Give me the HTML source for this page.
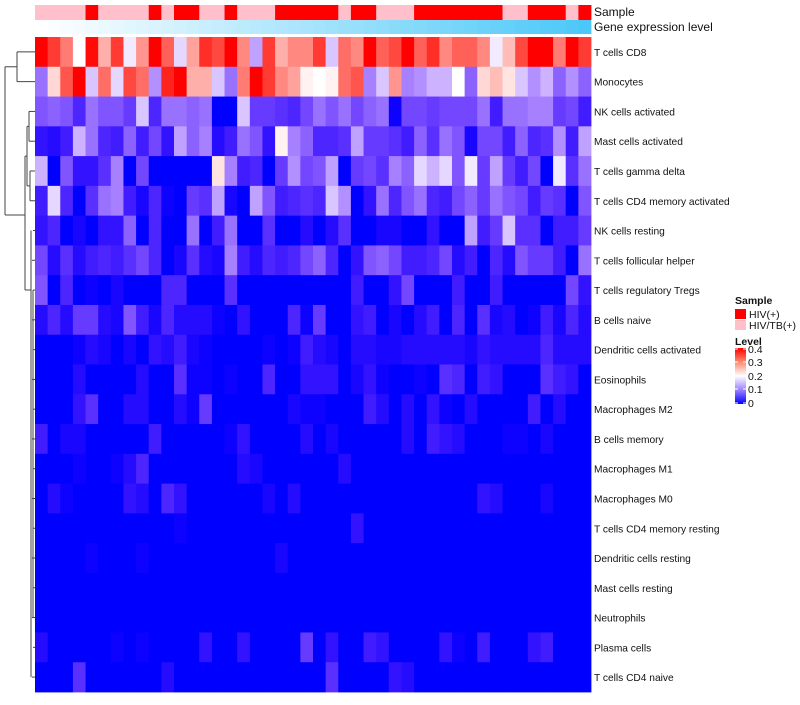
<!DOCTYPE html>
<html><head><meta charset="utf-8"><style>
body{margin:0;background:#fff;}
svg text{font-family:"Liberation Sans",sans-serif;}
</style></head><body>
<svg id="chart" width="800" height="700" xmlns="http://www.w3.org/2000/svg">
<rect width="800" height="700" fill="#fff"/>
<g id="dendro" stroke="#444" stroke-width="1" fill="none"></g>
<g id="cells"></g>
<g id="annot"></g>
<g id="labels" font-size="10.2" fill="#111"></g>
<text x="594" y="16" font-size="12" fill="#111">Sample</text>
<text x="594" y="31" font-size="12" fill="#111">Gene expression level</text>
<g font-size="10.5" fill="#111">
<text x="735" y="304" font-weight="bold">Sample</text>
<rect x="735" y="309" width="11" height="10" fill="#ff0000"/>
<text x="749" y="318">HIV(+)</text>
<rect x="735" y="320" width="11" height="10" fill="#ffc0cb"/>
<text x="749" y="329">HIV/TB(+)</text>
<text x="735" y="345" font-weight="bold">Level</text>
<defs><linearGradient id="lg" x1="0" y1="1" x2="0" y2="0"><stop offset="0" stop-color="#0000ff"/><stop offset="0.25" stop-color="#9a80ff"/><stop offset="0.5" stop-color="#ffffff"/><stop offset="0.75" stop-color="#ff8a70"/><stop offset="1" stop-color="#ff0000"/></linearGradient></defs>
<rect x="735" y="348" width="11" height="56" fill="url(#lg)"/>
<g stroke="#fff" stroke-width="1"><line x1="735" x2="738" y1="349" y2="349"/><line x1="743" x2="746" y1="349" y2="349"/><line x1="735" x2="738" y1="362" y2="362"/><line x1="743" x2="746" y1="362" y2="362"/><line x1="735" x2="738" y1="376" y2="376"/><line x1="743" x2="746" y1="376" y2="376"/><line x1="735" x2="738" y1="389" y2="389"/><line x1="743" x2="746" y1="389" y2="389"/><line x1="735" x2="738" y1="403" y2="403"/><line x1="743" x2="746" y1="403" y2="403"/></g>
<text x="748" y="353">0.4</text>
<text x="748" y="366">0.3</text>
<text x="748" y="380">0.2</text>
<text x="748" y="393">0.1</text>
<text x="748" y="407">0</text>
</g>
</svg>
<script>
const rowNames = ["T cells CD8","Monocytes","NK cells activated","Mast cells activated","T cells gamma delta","T cells CD4 memory activated","NK cells resting","T cells follicular helper","T cells regulatory  Tregs","B cells naive","Dendritic cells activated","Eosinophils","Macrophages M2","B cells memory","Macrophages M1","Macrophages M0","T cells CD4 memory resting","Dendritic cells resting","Mast cells resting","Neutrophils","Plasma cells","T cells CD4 naive"];
const sampleGroups = "PPPPRPPPPRPRRPPRPPPRRRRRPRRPPPRRRRRRRPPRRRPR".split("");
const row0 = [0.4,0.35,0.3,0.2,0.39,0.26,0.35,0.19,0.28,0.4,0.32,0.18,0.27,0.36,0.34,0.4,0.29,0.15,0.35,0.26,0.29,0.29,0.35,0.17,0.31,0.29,0.4,0.32,0.34,0.4,0.32,0.36,0.29,0.32,0.32,0.29,0.19,0.25,0.34,0.4,0.4,0.3,0.4,0.35];
const row1 = [0.12,0.23,0.33,0.4,0.17,0.31,0.18,0.34,0.31,0.14,0.37,0.4,0.26,0.26,0.17,0.12,0.3,0.4,0.35,0.29,0.27,0.21,0.2,0.21,0.31,0.33,0.13,0.17,0.28,0.13,0.14,0.16,0.16,0.2,0.11,0.23,0.25,0.22,0.17,0.14,0.16,0.11,0.14,0.11];
const row2 = [0.1,0.11,0.1,0.06,0.12,0.1,0.1,0.08,0.17,0.06,0.12,0.12,0.11,0.12,0,0,0.17,0.08,0.08,0.07,0.06,0.09,0.12,0.1,0.12,0.09,0.11,0.12,0.01,0.09,0.09,0.08,0.09,0.09,0.09,0.12,0.05,0.12,0.12,0.13,0.13,0.08,0.09,0.05];
const row3 = [0.04,0.03,0.05,0.16,0.12,0.06,0.05,0.11,0.05,0.09,0.04,0.15,0.11,0.13,0.03,0.05,0.12,0.1,0.04,0.21,0.13,0.11,0.06,0.06,0.07,0.15,0.08,0.08,0.07,0.05,0.11,0.07,0.12,0.1,0.02,0.09,0.09,0.05,0.11,0.06,0.07,0.14,0.05,0.15];
const row4 = [0.16,0,0.1,0.04,0.04,0.07,0.13,0,0.09,0,0,0,0,0,0.22,0.13,0.05,0.06,0,0.08,0.14,0.09,0.1,0.15,0,0.08,0.09,0.07,0.13,0.11,0.18,0.16,0.18,0.1,0.19,0.08,0.15,0.08,0.05,0.09,0,0.19,0.07,0.12];
const row5 = [0.05,0.18,0.06,0,0.07,0.12,0.13,0.05,0.02,0.06,0.01,0,0.08,0.07,0.15,0.02,0,0.15,0.1,0.05,0.06,0.07,0.06,0.17,0.14,0,0.04,0.12,0.06,0.1,0.12,0.06,0.05,0.09,0.11,0.08,0.12,0.1,0.09,0.05,0.08,0.07,0,0.1];
const row6 = [0.04,0.06,0,0.02,0,0.04,0.04,0.11,0,0.06,0,0,0.12,0,0.05,0.12,0,0,0.07,0,0,0.03,0,0.03,0.07,0,0,0.02,0.02,0,0,0.04,0,0,0.15,0.05,0.08,0.17,0.07,0.07,0,0.05,0.05,0.08];
const row7 = [0.09,0.03,0.07,0.03,0.05,0.06,0.05,0.07,0.09,0.06,0,0.02,0.07,0.03,0.02,0.13,0.05,0.03,0.06,0.05,0.06,0.09,0.11,0.06,0,0.04,0.1,0.11,0.09,0.05,0.05,0.06,0.09,0.03,0.05,0,0.06,0.03,0.1,0.08,0.08,0.05,0,0.12];
const row8 = [0.1,0,0.06,0,0.01,0,0.02,0,0,0,0.06,0.06,0,0,0,0.07,0,0,0,0,0,0,0,0,0,0.05,0,0,0.04,0.09,0,0,0,0.05,0,0,0.05,0,0,0,0,0,0.09,0.04];
const row9 = [0.03,0.06,0.03,0.08,0.08,0.03,0.02,0.1,0.05,0.02,0.06,0.03,0.03,0.03,0.01,0,0.04,0,0,0,0.06,0.01,0.08,0,0,0.04,0.05,0,0.02,0,0.03,0.05,0,0.06,0,0.07,0.02,0.03,0,0.01,0.05,0.02,0.06,0.03];
const row10 = [0,0,0,0.01,0.03,0.02,0,0.02,0,0.04,0.03,0.05,0.02,0.01,0,0,0,0,0.01,0,0.01,0.05,0.03,0.02,0,0.03,0.03,0.02,0.02,0.03,0.03,0.03,0.03,0.03,0.02,0.04,0.03,0.03,0.03,0.03,0.06,0.03,0.03,0.03];
const row11 = [0,0,0,0.03,0,0,0,0,0.03,0,0,0.07,0.01,0.01,0,0.01,0,0,0.06,0,0,0.04,0.04,0.04,0,0.02,0.04,0.01,0,0,0.01,0,0.07,0.06,0,0.05,0.04,0,0,0,0.07,0.05,0.04,0];
const row12 = [0,0,0,0.04,0.07,0,0,0.03,0.03,0,0,0.03,0.01,0.08,0,0,0,0,0,0,0.02,0.01,0.01,0,0,0,0.05,0.03,0,0.03,0,0.04,0.01,0,0.03,0,0,0,0,0.05,0,0.03,0,0];
const row13 = [0.05,0,0.02,0.02,0,0,0,0,0,0.05,0,0,0,0,0,0.01,0.04,0,0,0,0,0.03,0,0.02,0,0,0,0,0,0.03,0,0.05,0.04,0.03,0,0,0,0.01,0.01,0,0.02,0,0,0];
const row14 = [0,0,0,0.01,0,0,0.01,0.03,0.06,0,0,0,0,0,0,0,0.03,0.02,0,0,0,0,0,0,0.03,0,0,0,0,0,0,0,0,0,0,0,0,0,0,0,0,0,0,0];
const row15 = [0,0.03,0.01,0,0,0,0,0.04,0.03,0,0.06,0.04,0,0,0,0,0,0,0.02,0,0.03,0,0,0,0,0,0,0,0,0,0,0,0,0,0,0.04,0.03,0,0,0,0.02,0,0,0];
const row16 = [0,0,0,0,0,0,0,0,0,0,0,0.01,0,0,0,0,0,0,0,0,0,0,0,0,0,0.04,0,0,0,0,0,0,0,0,0,0,0,0,0,0,0,0,0,0];
const row17 = [0,0,0,0,0.01,0,0,0,0.01,0,0,0,0,0,0,0,0,0,0,0.02,0,0,0,0,0,0,0,0,0,0,0,0,0,0,0,0,0,0,0,0,0,0,0,0];
const row18 = [0,0,0,0,0,0,0,0,0,0,0,0,0,0,0,0,0,0,0,0,0,0,0,0,0,0,0,0,0,0,0,0,0,0,0,0,0,0,0,0,0,0,0,0];
const row19 = [0,0,0,0,0,0,0,0,0,0,0,0,0,0,0,0,0,0,0,0,0,0,0,0,0,0,0,0,0,0,0,0,0,0,0,0,0,0,0,0,0,0,0,0];
const row20 = [0.03,0,0,0,0,0,0.01,0,0.01,0,0,0,0,0.04,0,0,0.04,0,0,0,0,0.08,0,0.04,0,0,0.05,0.04,0,0,0,0,0.04,0.01,0,0.05,0,0,0,0.04,0.05,0,0,0];
const row21 = [0,0,0,0.07,0,0,0,0,0,0,0.03,0,0,0,0,0,0,0,0,0,0,0,0,0.07,0,0,0,0,0.04,0.03,0,0,0,0,0,0,0,0,0,0,0,0,0,0];
const values = [row0,row1,row2,row3,row4,row5,row6,row7,row8,row9,row10,row11,row12,row13,row14,row15,row16,row17,row18,row19,row20,row21];

const NS = "http://www.w3.org/2000/svg";
const X0 = 35, X1 = 591, Y0 = 37, Y1 = 692;
const nCol = sampleGroups.length, nRow = rowNames.length;
const cw = (X1 - X0) / nCol, ch = (Y1 - Y0) / nRow;
function xPos(j){ return X0 + j * cw; }
function yPos(i){ return Y0 + i * ch; }
function yMid(i){ return Y0 + (i + 0.5) * ch; }
function colorFor(v){
  let r,g,b;
  if (v <= 0.2){ const t = Math.max(0, v / 0.2); r = 255 * t; g = 255 * Math.pow(t, 1.6); b = 255; }
  else { const t = Math.min(1, (v - 0.2) / 0.2); r = 255; g = 255 * Math.pow(1 - t, 1.05); b = 255 * Math.pow(1 - t, 1.15); }
  return "rgb(" + Math.round(r) + "," + Math.round(g) + "," + Math.round(b) + ")";
}
function mk(tag, attrs){ const e = document.createElementNS(NS, tag); for (const k in attrs) e.setAttribute(k, attrs[k]); return e; }

const cells = document.getElementById("cells");
for (let i = 0; i < nRow; i++){
  for (let j = 0; j < nCol; j++){
    const r = mk("rect", {x: xPos(j), y: yPos(i), width: cw + 0.4, height: ch + 0.4, fill: colorFor(values[i][j])});
    
    
    cells.appendChild(r);
  }
}
const annot = document.getElementById("annot");
for (let j = 0; j < nCol; j++){
  const s = mk("rect", {x: xPos(j), y: 5, width: cw + 0.4, height: 15, fill: sampleGroups[j] === "R" ? "#ff0000" : "#ffc0cb"});
  
  
  annot.appendChild(s);
  const t = j / (nCol - 1);
  const gcol = "rgb(" + Math.round(255 - 179 * t) + "," + Math.round(255 - 55 * t) + "," + Math.round(255 - 7 * t) + ")";
  const g = mk("rect", {x: xPos(j), y: 20, width: cw + 0.4, height: 14, fill: gcol});
  
  
  annot.appendChild(g);
}
const labels = document.getElementById("labels");
for (let i = 0; i < nRow; i++){
  const t = mk("text", {x: 594, y: yMid(i) + 4});
  t.textContent = rowNames[i];
  
  
  labels.appendChild(t);
}
const dendro = document.getElementById("dendro");
function seg(x1,y1,x2,y2){
  const l = mk("line", {x1:x1, y1:y1, x2:x2, y2:y2});
  
  
  dendro.appendChild(l);
}
const a = (yMid(0) + yMid(1)) / 2;
seg(17, yMid(0), 35, yMid(0)); seg(17, yMid(1), 35, yMid(1)); seg(17, yMid(0), 17, yMid(1));
seg(5, a, 17, a); seg(5, a, 5, 215); seg(5, 215, 25, 215);
seg(29, yMid(2), 35, yMid(2)); seg(29, yMid(3), 35, yMid(3)); seg(29, yMid(2), 29, yMid(3));
seg(30, yMid(4), 35, yMid(4)); seg(30, yMid(5), 35, yMid(5)); seg(30, yMid(4), 30, yMid(5));
const c1 = (yMid(2) + yMid(3)) / 2, c2 = (yMid(4) + yMid(5)) / 2;
seg(27, c1, 29, c1); seg(27, c2, 30, c2); seg(27, c1, 27, c2);
const cm = (c1 + c2) / 2;
seg(25, cm, 27, cm); seg(25, cm, 25, 290); seg(25, 290, 31, 290);
seg(31, yMid(6), 31, yMid(21));
for (let i = 6; i < nRow; i++){ seg(i % 2 ? 32 : 33, yMid(i), 35, yMid(i)); }
seg(33, yMid(8), 33, yMid(19));
</script>
</body></html>
